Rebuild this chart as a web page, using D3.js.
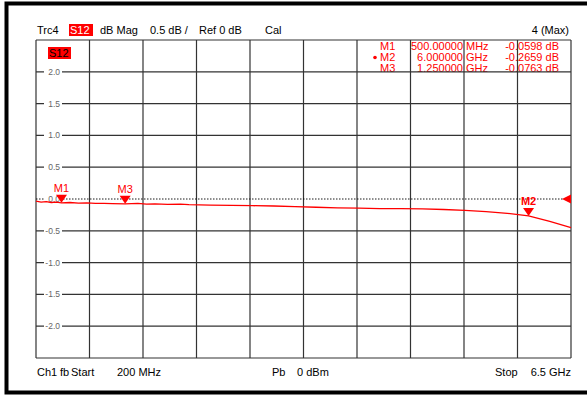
<!DOCTYPE html>
<html>
<head>
<meta charset="utf-8">
<script src="https://cdn.jsdelivr.net/npm/d3@7"></script>
<style>
  body { margin: 0; background: #fff; }
  svg { display: block; font-family: "Liberation Sans", Arial, sans-serif; }
</style>
</head>
<body>
<div id="chart"></div>
<script>
// trace S12, frequency in GHz, level in dB
var freqs = [0.2, 0.26, 0.32, 0.38, 0.44, 0.5, 0.6, 0.7, 0.8, 0.9, 1.0, 1.1, 1.25, 1.4, 1.5, 1.6, 1.75, 1.9, 2.0, 2.25, 2.5,
             2.75, 3.0, 3.25, 3.5, 3.75, 4.0, 4.25, 4.5, 4.75, 5.0, 5.25, 5.5, 5.75, 6.0, 6.25, 6.5];
var levels = [-0.035, -0.05, -0.04, -0.055, -0.05, -0.06, -0.055, -0.065, -0.06, -0.07, -0.068, -0.072, -0.076, -0.07, -0.08, -0.078, -0.085, -0.082, -0.09, -0.095, -0.1,
              -0.105, -0.11, -0.12, -0.13, -0.14, -0.145, -0.15, -0.152, -0.155, -0.165, -0.18, -0.2, -0.225, -0.266, -0.35, -0.45];

var markerNames = ["M1", "M2", "M3"];
var markerFreqs = [0.5, 6.0, 1.25];
var markerLevels = [-0.0598, -0.2659, -0.0763];
var markerFreqText = ["500.00000", "6.000000", "1.250000"];
var markerUnitText = ["MHz", "GHz", "GHz"];
var markerLevelText = ["-0.0598 dB", "-0.2659 dB", "-0.0763 dB"];

var yTicks = [2.0, 1.5, 1.0, 0.5, 0.0, -0.5, -1.0, -1.5, -2.0];
var yTickLabels = ["2.0", "1.5", "1.0", "0.5", "0.0", "-0.5", "-1.0", "-1.5", "-2.0"];
var xGrid = [0.2, 0.83, 1.46, 2.09, 2.72, 3.35, 3.98, 4.61, 5.24, 5.87, 6.5];
var yGrid = [2.5, 2.0, 1.5, 1.0, 0.5, -0.5, -1.0, -1.5, -2.0, -2.5];

var W = 587, H = 395;
var pLeft = 36, pRight = 571, pTop = 40, pBottom = 358;
var red = "#ff0000";

var svg = d3.select("#chart").append("svg")
            .attr("width", W)
            .attr("height", H);

var x = d3.scaleLinear().domain([0.2, 6.5]).range([pLeft, pRight]);
var y = d3.scaleLinear().domain([-2.5, 2.5]).range([pBottom, pTop]);

// outer frame (top, left, bottom)
svg.append("path")
   .attr("d", "M587,3.5 H6.5 V392.5 H587")
   .style("fill", "none")
   .style("stroke", "#000")
   .style("stroke-width", 4);

function txt(g, px, py, s, anchor){
	return g.append("text").attr("x", px).attr("y", py)
	        .attr("text-anchor", anchor || "start").text(s);
}

// header
var hdr = svg.append("g").style("font-size", "11px");
txt(hdr, 37, 34, "Trc4");
hdr.append("rect").attr("x", 69).attr("y", 24).attr("width", 24).attr("height", 12).style("fill", red);
txt(hdr, 70, 34, "S12").style("fill", "#fff");
txt(hdr, 100, 34, "dB Mag");
txt(hdr, 150, 34, "0.5 dB /");
txt(hdr, 199, 34, "Ref 0 dB");
txt(hdr, 265, 34, "Cal");
txt(hdr, 569, 34, "4 (Max)", "end");

// marker table (under the grid, as on the instrument)
var tbl = svg.append("g").style("font-size", "11px").style("fill", red);
markerNames.forEach(function(m, i){
	var by = 50 + i * 11;
	txt(tbl, 380, by, m);
	txt(tbl, 463, by, markerFreqText[i], "end");
	txt(tbl, 466, by, markerUnitText[i]);
	txt(tbl, 559, by, markerLevelText[i], "end");
});
tbl.append("circle").attr("cx", 375).attr("cy", 57.5).attr("r", 1.8).style("fill", red);

// grid
svg.selectAll(".vgrid").data(xGrid).enter().append("line")
   .attr("class", "vgrid")
   .attr("x1", function(d){ return x(d); })
   .attr("x2", function(d){ return x(d); })
   .attr("y1", pTop).attr("y2", pBottom)
   .style("stroke", "#333").style("stroke-width", 1.2);

svg.selectAll(".hgrid").data(yGrid).enter().append("line")
   .attr("class", "hgrid")
   .attr("x1", pLeft).attr("x2", pRight)
   .attr("y1", function(d){ return y(d); })
   .attr("y2", function(d){ return y(d); })
   .style("stroke", "#333").style("stroke-width", 1.2);

// reference line at 0 dB
svg.append("line")
   .attr("x1", pLeft).attr("x2", pRight)
   .attr("y1", y(0)).attr("y2", y(0))
   .style("stroke", "#000").style("stroke-width", 0.9)
   .style("stroke-dasharray", "1.5,1.5");

// y tick labels with white background
var lab = svg.selectAll(".ylab").data(yTicks).enter().append("g").attr("class", "ylab");
lab.append("rect")
   .attr("x", 44).attr("y", function(d){ return y(d) - 4; })
   .attr("width", 18).attr("height", 8)
   .style("fill", "#fff");
lab.append("text")
   .attr("x", 60)
   .attr("y", function(d){ return y(d) + 3; })
   .attr("text-anchor", "end")
   .style("font-size", "8.5px")
   .style("fill", "#666")
   .text(function(d, i){ return yTickLabels[i]; });

// S12 label inside the plot
svg.append("rect").attr("x", 48).attr("y", 47).attr("width", 23).attr("height", 12).style("fill", red);
svg.append("text").attr("x", 49).attr("y", 57).style("font-size", "11px").style("fill", "#000").text("S12");

// trace
var line = d3.line()
             .x(function(d, i){ return x(freqs[i]); })
             .y(function(d){ return y(d); });
svg.append("path")
   .datum(levels)
   .attr("d", line)
   .style("fill", "none")
   .style("stroke", red)
   .style("stroke-width", 1.3);

// markers
var mk = svg.selectAll(".marker").data(markerNames).enter().append("g").attr("class", "marker");
mk.append("path")
  .attr("d", function(d, i){
	var px = x(markerFreqs[i]), py = y(markerLevels[i]);
	return "M" + (px - 5.5) + "," + (py - 8) + " L" + (px + 5.5) + "," + (py - 8) + " L" + px + "," + py + " Z";
  })
  .style("fill", red);
mk.append("text")
  .attr("x", function(d, i){ return x(markerFreqs[i]); })
  .attr("y", function(d, i){ return y(markerLevels[i]) - 11; })
  .attr("text-anchor", "middle")
  .style("font-size", "11px")
  .style("font-weight", function(d){ return d == "M2" ? "bold" : "normal"; })
  .style("fill", red)
  .text(function(d){ return d; });

// reference level arrow on the right
svg.append("path")
   .attr("d", "M" + (pRight - 9) + "," + y(0) + " L" + pRight + "," + (y(0) - 4.5) + " L" + pRight + "," + (y(0) + 4.5) + " Z")
   .style("fill", red);

// footer
var ftr = svg.append("g").style("font-size", "11px");
txt(ftr, 37, 376, "Ch1");
txt(ftr, 60, 376, "fb");
txt(ftr, 71, 376, "Start");
txt(ftr, 117, 376, "200 MHz");
txt(ftr, 272, 376, "Pb");
txt(ftr, 297, 376, "0 dBm");
txt(ftr, 495, 376, "Stop");
txt(ftr, 571, 376, "6.5 GHz", "end");
</script>
</body>
</html>
